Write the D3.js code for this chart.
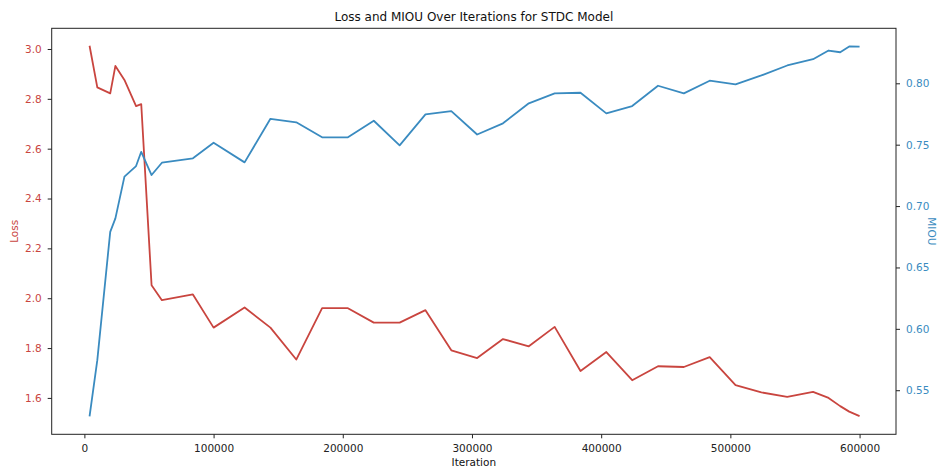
<!DOCTYPE html>
<html><head><meta charset="utf-8">
<script src="https://cdn.jsdelivr.net/npm/d3@7"></script>
<style>body{margin:0;background:#fff}svg{display:block}text{font-family:"DejaVu Sans",sans-serif}</style>
</head><body><svg id="c" width="940" height="470"></svg>
<script>
const iterations = [4000,10000,20000,24000,31000,40000,44000,52000,60000,84000,100000,124000,144000,164000,184000,204000,224000,244000,264000,284000,304000,324000,344000,364000,384000,404000,424000,444000,464000,484000,504000,524000,544000,564000,576000,585000,592000,600000];
const loss = [3.013,2.846,2.822,2.932,2.876,2.771,2.779,2.052,1.992,2.015,1.882,1.963,1.882,1.754,1.960,1.960,1.902,1.902,1.952,1.791,1.760,1.836,1.807,1.885,1.708,1.784,1.671,1.727,1.724,1.764,1.651,1.622,1.604,1.624,1.600,1.567,1.545,1.527];
const miou = [0.5288,0.5745,0.679,0.690,0.724,0.7326,0.7442,0.7253,0.7353,0.7389,0.7516,0.7356,0.7711,0.7682,0.7560,0.7560,0.7695,0.7495,0.7747,0.7774,0.7583,0.7674,0.7837,0.7918,0.7923,0.7755,0.7815,0.7980,0.7918,0.8021,0.7992,0.8064,0.8145,0.8196,0.8267,0.8253,0.8300,0.8298];
const xTicks = [0,100000,200000,300000,400000,500000,600000];
const lossTicks = [1.6,1.8,2.0,2.2,2.4,2.6,2.8,3.0];
const miouTicks = [0.55,0.60,0.65,0.70,0.75,0.80];
const title = "Loss and MIOU Over Iterations for STDC Model";

const RED = "#c9453f", BLUE = "#3a8bc0";
const L = 51.7, R = 896, T = 28.3, B = 434.3;
const svg = d3.select("#c");
const x = d3.scaleLinear().domain([-25300, 628200]).range([L, R]);
const yL = d3.scaleLinear().domain([1.454, 3.083]).range([B, T]);
const yR = d3.scaleLinear().domain([0.5141, 0.8448]).range([B, T]);

function styleAxis(g, color){
  g.selectAll(".domain").remove();
  g.selectAll(".tick line").attr("stroke","#222");
  g.selectAll(".tick text").attr("fill",color).style("font-size","10.5px").style("font-family","DejaVu Sans, sans-serif");
}
svg.append("g").attr("transform",`translate(0,${B})`)
  .call(d3.axisBottom(x).tickValues(xTicks).tickFormat(d3.format("d")).tickSizeOuter(0).tickSize(4).tickPadding(6))
  .call(g=>styleAxis(g,"#222"));
svg.append("g").attr("transform",`translate(${L},0)`)
  .call(d3.axisLeft(yL).tickValues(lossTicks).tickFormat(d3.format(".1f")).tickSizeOuter(0).tickSize(4).tickPadding(6))
  .call(g=>styleAxis(g,RED));
svg.append("g").attr("transform",`translate(${R},0)`)
  .call(d3.axisRight(yR).tickValues(miouTicks).tickFormat(d3.format(".2f")).tickSizeOuter(0).tickSize(4).tickPadding(6))
  .call(g=>styleAxis(g,BLUE));

const data = iterations.map((it,i)=>({it, l:loss[i], m:miou[i]}));
svg.append("path").datum(data).attr("fill","none").attr("stroke",RED).attr("stroke-width",1.8).attr("stroke-linejoin","round")
  .attr("d", d3.line().x(d=>x(d.it)).y(d=>yL(d.l)));
svg.append("path").datum(data).attr("fill","none").attr("stroke",BLUE).attr("stroke-width",1.8).attr("stroke-linejoin","round")
  .attr("d", d3.line().x(d=>x(d.it)).y(d=>yR(d.m)));

svg.append("rect").attr("x",L).attr("y",T).attr("width",R-L).attr("height",B-T)
  .attr("fill","none").attr("stroke","#222").attr("stroke-width",1);

svg.append("text").attr("x",(L+R)/2).attr("y",21).attr("text-anchor","middle")
  .style("font-size","12px").attr("fill","#111").text(title);
svg.append("text").attr("x",(L+R)/2).attr("y",466).attr("text-anchor","middle")
  .style("font-size","10.5px").attr("fill","#111").text("Iteration");
svg.append("text").attr("transform",`translate(18,${(T+B)/2}) rotate(-90)`).attr("text-anchor","middle")
  .style("font-size","10.5px").attr("fill",RED).text("Loss");
svg.append("text").attr("transform",`translate(928,${(T+B)/2}) rotate(90)`).attr("text-anchor","middle")
  .style("font-size","10.5px").attr("fill",BLUE).text("MIOU");
</script></body></html>
